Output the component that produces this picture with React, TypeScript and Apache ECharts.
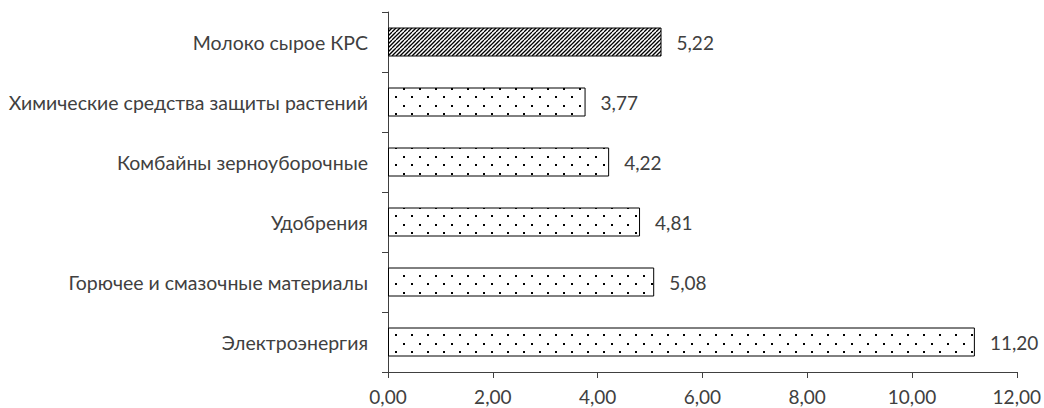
import React, { useEffect, useRef } from "react";
import * as echarts from "echarts";

const categories = [
  "Электроэнергия",
  "Горючее и смазочные материалы",
  "Удобрения",
  "Комбайны зерноуборочные",
  "Химические средства защиты растений",
  "Молоко сырое КРС",
];
const values = [11.2, 5.08, 4.81, 4.22, 3.77, 5.22];
const hatched = [false, false, false, false, false, true];
const xTicks = [0, 2, 4, 6, 8, 10, 12];

function dotCanvas(): HTMLCanvasElement {
  const c = document.createElement("canvas");
  c.width = 16;
  c.height = 17;
  const ctx = c.getContext("2d")!;
  ctx.fillStyle = "#ffffff";
  ctx.fillRect(0, 0, 16, 17);
  ctx.fillStyle = "#000000";
  ctx.fillRect(3, 3, 2, 2);
  ctx.fillRect(11, 11, 2, 2);
  return c;
}

function hatchCanvas(): HTMLCanvasElement {
  const c = document.createElement("canvas");
  c.width = 8;
  c.height = 8;
  const ctx = c.getContext("2d")!;
  ctx.fillStyle = "#ffffff";
  ctx.fillRect(0, 0, 8, 8);
  ctx.strokeStyle = "#000000";
  ctx.lineWidth = 1.3;
  for (let k = -8; k <= 16; k += 4) {
    ctx.beginPath();
    ctx.moveTo(k, 8);
    ctx.lineTo(k + 8, 0);
    ctx.stroke();
  }
  return c;
}

export default function App() {
  const ref = useRef<HTMLDivElement>(null);
  useEffect(() => {
    if (!ref.current) return;
    const chart = echarts.init(ref.current, undefined, { renderer: "svg" });
    const dot = { image: dotCanvas(), repeat: "repeat" } as any;
    const hatch = { image: hatchCanvas(), repeat: "repeat" } as any;
    const font = "Lato, 'Open Sans', sans-serif";
    chart.setOption({
      animation: false,
      grid: { left: 388, right: 26, top: 12, bottom: 36, containLabel: false },
      xAxis: {
        type: "value",
        min: xTicks[0],
        max: xTicks[xTicks.length - 1],
        interval: 2,
        splitLine: { show: false },
        axisLine: { show: true, lineStyle: { color: "#404040", width: 1 } },
        axisTick: { show: true, length: 6, lineStyle: { color: "#404040" } },
        axisLabel: {
          color: "#404040",
          fontSize: 19,
          fontFamily: font,
          margin: 15,
          formatter: (v: number) => v.toFixed(2).replace(".", ","),
        },
      },
      yAxis: {
        type: "category",
        data: categories,
        axisLine: { show: true, lineStyle: { color: "#404040", width: 1 } },
        axisTick: { show: true, length: 6, lineStyle: { color: "#404040" } },
        axisLabel: {
          color: "#404040",
          fontSize: 19.5,
          fontFamily: font,
          margin: 20,
        },
      },
      series: [
        {
          type: "bar",
          barWidth: 29,
          data: values.map((v, i) => ({
            value: v,
            itemStyle: {
              color: hatched[i] ? hatch : dot,
              borderColor: "#000000",
              borderWidth: 1,
            },
          })),
          label: {
            show: true,
            position: "right",
            distance: 15,
            color: "#404040",
            fontSize: 19,
            fontFamily: font,
            formatter: (p: any) => Number(p.value).toFixed(2).replace(".", ","),
          },
        },
      ],
    });
    return () => chart.dispose();
  }, []);
  return (
    <div
      ref={ref}
      style={{ position: "fixed", left: 0, top: 0, width: 1044, height: 408, background: "#fff" }}
    />
  );
}
